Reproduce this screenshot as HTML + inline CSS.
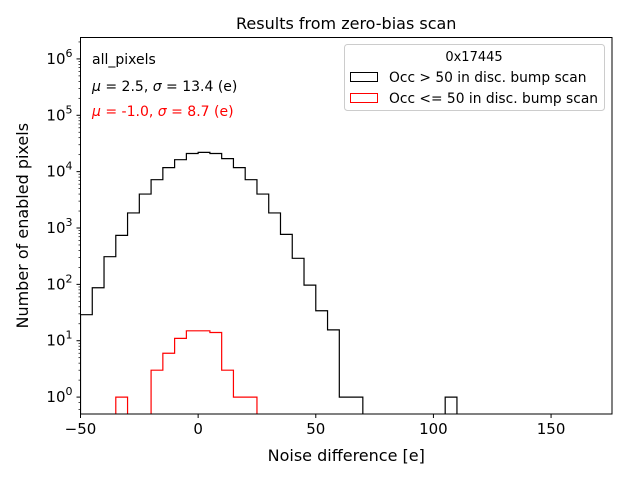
<!DOCTYPE html>
<html><head><meta charset="utf-8"><style>
body{margin:0;background:#fff}
svg{display:block;font-family:"DejaVu Sans","Liberation Sans",sans-serif}
</style></head><body>
<svg id="c" width="640" height="480" xmlns="http://www.w3.org/2000/svg"></svg>
<script>
const binStarts=[-50,-45,-40,-35,-30,-25,-20,-15,-10,-5,0,5,10,15,20,25,30,35,40,45,50,55,60,65,70,75,80,85,90,95,100,105,110];
const blackCounts=[29,87,310,740,1850,4000,7200,11800,16300,21000,22000,21000,17000,11800,7200,4000,1850,770,290,97,34,15.6,1,1,0,0,0,0,0,0,0,1,0];
const redCounts=[0,0,0,1,0,0,3,6,11,15,15,14,3,1,1,0,0,0,0,0,0,0,0,0,0,0,0,0,0,0,0,0,0];
const xTicks=[-50,0,50,100,150];
const yTickExps=[0,1,2,3,4,5,6];
const binW=5;
const L=80.5,R=612,T=37.5,B=414,xmin=-50,xmax=175.9,lmin=-0.3,lmax=6.38;
const svg=document.getElementById('c');const NS='http://www.w3.org/2000/svg';
const X=v=>L+(v-xmin)/(xmax-xmin)*(R-L);
const Y=v=>v<=0?B+5:B-(Math.log10(v)-lmin)/(lmax-lmin)*(B-T);
function el(t,a,txt){const e=document.createElementNS(NS,t);for(const k in a)e.setAttribute(k,a[k]);if(txt!==undefined)e.textContent=txt;svg.appendChild(e);return e;}
const cp=el('clipPath',{id:'cp'});const r=document.createElementNS(NS,'rect');r.setAttribute('x',L);r.setAttribute('y',T);r.setAttribute('width',R-L);r.setAttribute('height',B-T);cp.appendChild(r);
function hist(counts,color,name){
  let d='';let first=true;
  for(let i=0;i<binStarts.length;i++){
    const y=Y(counts[i]);const x0=X(binStarts[i]),x1=X(binStarts[i]+binW);
    if(first){d+=`M${x0},${B+5}L${x0},${y}`;first=false;}else d+=`L${x0},${y}`;
    d+=`L${x1},${y}`;
  }
  d+=`L${X(binStarts[binStarts.length-1]+binW)},${B+5}`;
  const p=el('path',{d:d,fill:'none',stroke:color,'stroke-width':1.2,'clip-path':'url(#cp)'});
  
  
}
hist(blackCounts,'#000','hist-occ-gt-50');
hist(redCounts,'#f00','hist-occ-le-50');
const frame=el('rect',{x:L,y:T,width:R-L,height:B-T,fill:'none',stroke:'#000','stroke-width':1});

xTicks.forEach(v=>{const x=X(v);el('line',{x1:x,x2:x,y1:B,y2:B+4,stroke:'#000'});
  const t=el('text',{x:x,y:B+20,'text-anchor':'middle','font-size':15},String(v).replace('-','−'));
  });
yTickExps.forEach(e=>{const y=Y(Math.pow(10,e));el('line',{x1:L-4,x2:L,y1:y,y2:y,stroke:'#000'});
  const t=el('text',{x:L-8,y:y+5,'text-anchor':'end','font-size':15});t.innerHTML=`10<tspan dy="-7" font-size="11">${e}</tspan>`;
  
  for(let m=2;m<10;m++){const ym=Y(m*Math.pow(10,e));if(ym>T&&ym<B)el('line',{x1:L-2,x2:L,y1:ym,y2:ym,stroke:'#000','stroke-width':0.7});}});
{const ym=Y(0.6);el('line',{x1:L-2,x2:L,y1:ym,y2:ym,stroke:'#000','stroke-width':0.7});const y2=Y(0.8);el('line',{x1:L-2,x2:L,y1:y2,y2:y2,stroke:'#000','stroke-width':0.7});}
let t;
t=el('text',{x:(L+R)/2,y:B+47,'text-anchor':'middle','font-size':16},'Noise difference [e]');
t=el('text',{x:28,y:(T+B)/2,'text-anchor':'middle','font-size':16,transform:`rotate(-90 28 ${(T+B)/2})`},'Number of enabled pixels');
t=el('text',{x:(L+R)/2,y:29,'text-anchor':'middle','font-size':16},'Results from zero-bias scan');
t=el('text',{x:92,y:64,'font-size':14},'all_pixels');
t=el('text',{x:92,y:91,'font-size':14});t.innerHTML='<tspan font-style="italic">μ</tspan> = 2.5, <tspan font-style="italic">σ</tspan> = 13.4 (e)';
t=el('text',{x:92,y:116,'font-size':14,fill:'#f00'});t.innerHTML='<tspan font-style="italic">μ</tspan> = -1.0, <tspan font-style="italic">σ</tspan> = 8.7 (e)';
const lg=el('rect',{x:344.5,y:44.5,width:260,height:66,rx:3,fill:'#fff',stroke:'#ccc'});
t=el('text',{x:474,y:61,'text-anchor':'middle','font-size':13},'0x17445');
el('rect',{x:350.5,y:72.5,width:27,height:9,fill:'none',stroke:'#000'});
t=el('text',{x:389,y:82,'font-size':13.8},'Occ > 50 in disc. bump scan');
el('rect',{x:350.5,y:93.5,width:27,height:9,fill:'none',stroke:'#f00'});
t=el('text',{x:389,y:103,'font-size':13.8},'Occ <= 50 in disc. bump scan');
</script>
</body></html>
